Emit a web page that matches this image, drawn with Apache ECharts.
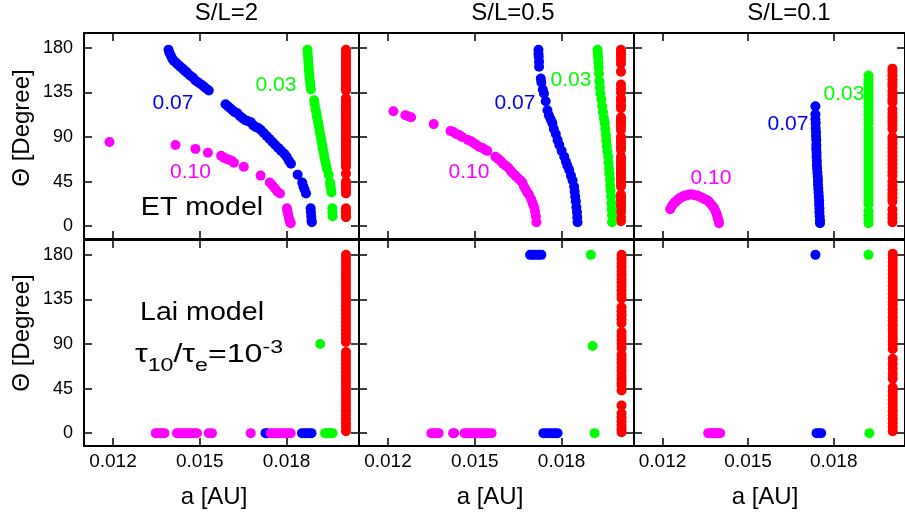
<!DOCTYPE html>
<html><head><meta charset="utf-8">
<script src="https://cdn.jsdelivr.net/npm/echarts@6/dist/echarts.min.js"></script>
<style>html,body{margin:0;padding:0;background:#fff}#c{width:905px;height:517px}</style>
</head><body><div id="c"></div>
<script>
// ---------- axes / labels ----------
const X_TICKS = [0.012, 0.015, 0.018];
const Y_TICKS = [0, 45, 90, 135, 180];
const COL_TITLES = ['S/L=2', 'S/L=0.5', 'S/L=0.1'];
const X_TITLE = 'a [AU]';
const Y_TITLE = '\u0398 [Degree]';

// ---------- ET model (top row) ----------
// S/L = 2
const ET2_RED_A = 0.02005;
const ET2_RED_THETA = [178,175,172,169,166,163,160,157,154,151,148,145,142,139,137,129,126,123,120,117,114,111,108,105,102,99,96,93,90,87,84,81,78,75,72,69,66,63,60,53,45,42,39,36,33,18,15,12,9];
const ET2_GREEN = [[0.01872,178],[0.01873,174],[0.01874,170],[0.01875,166],[0.01876,162],[0.01877,158],[0.01878,154],[0.01879,150],[0.01881,146],[0.01882,142],[0.01884,138],[0.01895,127],[0.01897,123],[0.01900,118],[0.01903,114],[0.01905,110],[0.01908,106],[0.01910,102],[0.01913,98],[0.01915,94],[0.01918,90],[0.01920,86],[0.01923,82],[0.01925,78],[0.01928,74],[0.01930,70],[0.01933,66],[0.01936,62],[0.01939,58],[0.01945,52],[0.01950,44],[0.01951,41],[0.01953,38],[0.01955,34],[0.01958,18],[0.01958,14],[0.01959,10]];
const ET2_BLUE = [[0.01392,178],[0.01395,175],[0.01400,172],[0.01405,169],[0.01410,167],[0.01418,165],[0.01425,163],[0.01433,161],[0.01441,159],[0.01448,157],[0.01456,155],[0.01466,152],[0.01476,150],[0.01485,147],[0.01495,145],[0.01505,143],[0.01514,141],[0.01522,139],[0.01531,137],
  [0.01589,123],[0.01597,121],[0.01605,119],[0.01613,117],[0.01621,115],[0.01630,114],[0.01639,111],[0.01648,109],[0.01657,107],[0.01666,106],[0.01676,105],[0.01684,102],[0.01693,100],[0.01702,99],[0.01711,97],[0.01721,94],[0.01731,91],[0.01741,88],[0.01751,85],[0.01761,82],[0.01771,79],[0.01781,76],[0.01792,73],[0.01800,70],[0.01808,66],[0.01815,63],[0.01838,52],[0.01854,44],[0.01858,40],[0.01862,37],[0.01867,33],[0.01883,18],[0.01884,14],[0.01885,10],[0.01886,6],[0.01887,4]];
const ET2_MAGENTA = [[0.01188,85],[0.01416,82],[0.01485,78],[0.01528,74],[0.01574,71],[0.01583,69],[0.01592,68],[0.01601,67],[0.01610,66],[0.01618,64],[0.01652,60],[0.01710,51],[0.01742,44],[0.01751,41],[0.01760,38],[0.01768,35],[0.01777,33],[0.01801,18],[0.01803,15],[0.01806,11],[0.01809,7],[0.01812,4],[0.01814,3]];
// S/L = 0.5
const ET05_RED_A = 0.02005;
const ET05_RED_THETA = [178,175,172,168,164,156,143,139,135,129,126,122,119,110,107,104,101,97,90,87,84,80,77,70,67,64,61,58,55,52,49,46,43,40,32,29,26,23,20,17,14,9,5];
const ET05_GREEN = [[0.01924,178],[0.01925,174],[0.01926,170],[0.01927,165],[0.01928,160],[0.01929,154],[0.01931,146],[0.01932,140],[0.01934,134],[0.01937,128],[0.01940,121],[0.01943,115],[0.01946,109],[0.01949,104],[0.01951,98],[0.01953,92],[0.01954,87],[0.01956,81],[0.01958,75],[0.01961,70],[0.01962,64],[0.01964,58],[0.01965,53],[0.01967,47],[0.01968,41],[0.01969,36],[0.01971,30],[0.01972,23],[0.01973,17],[0.01974,11],[0.01974,4]];
const ET05_BLUE = [[0.01720,178],[0.01720,174],[0.01721,171],[0.01722,166],[0.01722,161],[0.01728,149],[0.01730,145],[0.01735,138],[0.01739,134],[0.01745,126],[0.01751,117],[0.01756,112],[0.01762,108],[0.01768,104],[0.01773,98],[0.01780,93],[0.01786,87],[0.01792,82],[0.01800,76],[0.01809,70],[0.01815,65],[0.01820,61],[0.01826,57],[0.01832,51],[0.01838,46],[0.01843,40],[0.01845,35],[0.01847,30],[0.01849,25],[0.01851,19],[0.01853,14],[0.01854,9],[0.01855,4]];
const ET05_MAGENTA = [[0.01219,116],[0.01260,112],[0.01270,111],[0.01280,110],[0.01358,103],[0.01416,96],[0.01426,95],[0.01436,93],[0.01446,92],[0.01456,90],[0.01476,87],[0.01486,86],[0.01496,84],[0.01506,82],[0.01516,80],[0.01526,79],[0.01536,77],[0.01543,76],[0.01571,70],[0.01580,68],[0.01589,66],[0.01598,63],[0.01607,61],[0.01616,59],[0.01624,56],[0.01630,54],[0.01640,51],[0.01650,48],[0.01658,46],[0.01664,44],[0.01670,40],[0.01676,37],[0.01681,34],[0.01687,32],[0.01695,27],[0.01700,23],[0.01705,19],[0.01708,15],[0.01711,10],[0.01713,4]];
// S/L = 0.1
const ET01_RED_A = 0.02006;
const ET01_RED_THETA = [159,156,152,148,144,141,136,132,128,125,118,114,110,106,102,98,90,87,83,79,75,71,67,63,59,55,51,45,41,37,33,29,25,17,12,8,4];
const ET01_GREEN_A = 0.01922;
const ET01_GREEN_THETA = [152,148,144,140,136,132,128,124,120,116,112,108,104,98,94,90,86,82,78,74,70,66,62,58,54,50,46,42,38,34,30,26,22,15,11,7,3];
const ET01_BLUE = [[0.01736,121],[0.01736,113],[0.01736,108],[0.01737,104],[0.01737,99],[0.01738,95],[0.01738,91],[0.01739,87],[0.01739,82],[0.01739,78],[0.01740,74],[0.01740,70],[0.01741,66],[0.01741,62],[0.01742,58],[0.01743,54],[0.01744,50],[0.01745,46],[0.01745,42],[0.01746,38],[0.01747,34],[0.01748,30],[0.01749,26],[0.01749,22],[0.01750,18],[0.01750,14],[0.01751,10],[0.01752,6],[0.01752,3]];
const ET01_MAGENTA = [[0.01227,17],[0.01232,20],[0.01237,22],[0.01243,24],[0.01248,25],[0.01254,27],[0.01260,28],[0.01265,29],[0.01271,30],[0.01278,31],[0.01285,31],[0.01293,32],[0.01300,32],[0.01307,32],[0.01315,31],[0.01322,31],[0.01329,30],[0.01336,29],[0.01343,28],[0.01350,27],[0.01358,26],[0.01364,24],[0.01370,22],[0.01376,20],[0.01381,18],[0.01386,15],[0.01390,12],[0.01393,9],[0.01396,6],[0.01398,3]];

// ---------- Lai model (bottom row) ----------
const LAI2_RED_A = 0.02005;
const LAI2_RED_THETA = [180,176,172,168,164,160,156,152,148,144,140,136,132,128,124,120,116,112,108,104,100,96,92,82,78,74,70,66,62,58,54,50,46,42,38,34,30,26,22,18,14,10,6,2];
const LAI2_GREEN = [[0.01916,90],[0.01933,0],[0.01940,0],[0.01947,0],[0.01953,0],[0.01959,0]];
const LAI2_BLUE = [[0.01727,0],[0.01733,0],[0.01853,0],[0.01861,0],[0.01869,0],[0.01877,0],[0.01886,0]];
const LAI2_MAGENTA = [[0.01348,0],[0.01356,0],[0.01364,0],[0.01371,0],[0.01378,0],[0.01421,0],[0.01430,0],[0.01440,0],[0.01450,0],[0.01460,0],[0.01470,0],[0.01480,0],[0.01490,0],[0.01531,0],[0.01542,0],[0.01676,0],[0.01745,0],[0.01755,0],[0.01765,0],[0.01775,0],[0.01785,0],[0.01795,0],[0.01805,0],[0.01814,0]];
const LAI05_RED_A = 0.02007;
const LAI05_RED_THETA = [180,176,172,168,164,160,156,152,148,144,140,136,127,123,119,115,111,102,98,94,90,86,79,75,71,67,63,59,55,51,48,43,28,20,16,12,8,4,1];
const LAI05_GREEN = [[0.01901,180],[0.01907,88],[0.01914,0]];
const LAI05_BLUE = [[0.01691,180],[0.01700,180],[0.01710,180],[0.01720,180],[0.01730,180],[0.01737,0],[0.01747,0],[0.01757,0],[0.01767,0],[0.01777,0],[0.01786,0]];
const LAI05_MAGENTA = [[0.01350,0],[0.01358,0],[0.01366,0],[0.01375,0],[0.01425,0],[0.01429,0],[0.01465,0],[0.01475,0],[0.01485,0],[0.01495,0],[0.01505,0],[0.01515,0],[0.01525,0],[0.01535,0],[0.01545,0],[0.01558,0]];
const LAI01_RED_A = 0.02007;
const LAI01_RED_THETA = [181,177,173,169,165,161,157,153,149,145,141,137,133,129,125,121,117,113,109,105,101,97,93,89,85,75,70,65,60,55,46,42,38,34,30,26,22,18,14,10,6,2];
const LAI01_GREEN = [[0.01922,180],[0.01925,0]];
const LAI01_BLUE = [[0.01736,180],[0.01740,0],[0.01748,0],[0.01756,0]];
const LAI01_MAGENTA = [[0.01360,0],[0.01366,0],[0.01372,0],[0.01378,0],[0.01384,0],[0.01390,0],[0.01396,0],[0.01402,0]];

const col = (a, thetas) => thetas.map(t => [a, t]);

const PANELS = [
  {red: col(ET2_RED_A, ET2_RED_THETA), green: ET2_GREEN, blue: ET2_BLUE, magenta: ET2_MAGENTA},
  {red: col(ET05_RED_A, ET05_RED_THETA), green: ET05_GREEN, blue: ET05_BLUE, magenta: ET05_MAGENTA},
  {red: col(ET01_RED_A, ET01_RED_THETA), green: col(ET01_GREEN_A, ET01_GREEN_THETA), blue: ET01_BLUE, magenta: ET01_MAGENTA},
  {red: col(LAI2_RED_A, LAI2_RED_THETA), green: LAI2_GREEN, blue: LAI2_BLUE, magenta: LAI2_MAGENTA},
  {red: col(LAI05_RED_A, LAI05_RED_THETA), green: LAI05_GREEN, blue: LAI05_BLUE, magenta: LAI05_MAGENTA},
  {red: col(LAI01_RED_A, LAI01_RED_THETA), green: LAI01_GREEN, blue: LAI01_BLUE, magenta: LAI01_MAGENTA}
];

// ---------- layout / style ----------
const FONT = "'Liberation Sans', Arial, Helvetica, sans-serif";
const COLORS = {red: '#ff0000', green: '#00ff00', blue: '#0000ff', magenta: '#ff00ff'};
const X_MIN = 0.011, X_MAX = 0.0205, Y_MIN = -13, Y_MAX = 195;
const COL_LEFT = [84, 359, 634], ROW_TOP = [33, 240], GW = 275, GH = 206;

const grids = [], xAxes = [], yAxes = [], series = [];
const lineStyle = {color: '#000', width: 2};
const tickStyle = {color: '#000', width: 1.5};
PANELS.forEach((p, g) => {
  const r = Math.floor(g / 3), c = g % 3;
  grids.push({left: COL_LEFT[c], top: ROW_TOP[r], width: GW, height: GH, containLabel: false});
  ['bottom', 'top'].forEach((pos, k) => {
    xAxes.push({type: 'value', gridIndex: g, position: pos, min: X_MIN, max: X_MAX,
      axisLine: {show: true, onZero: false, lineStyle},
      axisTick: {show: true, inside: true, length: 8, customValues: X_TICKS, lineStyle: tickStyle},
      axisLabel: {show: k === 0 && r === 1, customValues: X_TICKS, formatter: v => v.toFixed(3),
        fontSize: 19, fontFamily: FONT, color: '#000', margin: 6},
      splitLine: {show: false}});
  });
  ['left', 'right'].forEach((pos, k) => {
    yAxes.push({type: 'value', gridIndex: g, position: pos, min: Y_MIN, max: Y_MAX,
      axisLine: {show: true, onZero: false, lineStyle},
      axisTick: {show: true, inside: true, length: 8, customValues: Y_TICKS, lineStyle: tickStyle},
      axisLabel: {show: k === 0 && c === 0, customValues: Y_TICKS,
        fontSize: 18, fontFamily: FONT, color: '#000', margin: 11},
      splitLine: {show: false}});
  });
  ['red', 'green', 'blue', 'magenta'].forEach(k => {
    series.push({type: 'scatter', xAxisIndex: 2 * g, yAxisIndex: 2 * g, data: p[k],
      symbol: 'circle', symbolSize: 10, itemStyle: {color: COLORS[k], opacity: 1},
      emphasis: {disabled: true}, silent: true, z: 2});
  });
});

// ---------- text annotations ----------
const txt = (text, x, y, size, color, extra) => Object.assign({type: 'text', x, y, z: 100,
  style: {text, fill: color || '#000', font: size + 'px ' + FONT, align: 'center', verticalAlign: 'middle'}}, extra || {});
const graphic = [];
const TITLE_X = [226.5, 513, 789];
COL_TITLES.forEach((t, i) => graphic.push(txt(t, TITLE_X[i], 13.5, 24)));
[214, 490, 765].forEach(x => graphic.push(txt(X_TITLE, x, 497, 24)));
[128, 333].forEach(y => graphic.push(txt(Y_TITLE, 22, y, 24, '#000', {rotation: Math.PI / 2})));
const ANNOT = [
  ['0.07', 173, 103.5, 'blue'], ['0.03', 276, 85, 'green'], ['0.10', 190.5, 172, 'magenta'],
  ['0.07', 515, 103.5, 'blue'], ['0.03', 571, 80, 'green'], ['0.10', 469, 172, 'magenta'],
  ['0.07', 788, 124, 'blue'], ['0.03', 844, 94, 'green'], ['0.10', 711, 178, 'magenta']
];
ANNOT.forEach(a => graphic.push(txt(a[0], a[1], a[2], 21, COLORS[a[3]])));
graphic.push(txt('ET model', 202, 208, 26, '#000', {scaleX: 1.1}));
graphic.push(txt('Lai model', 202, 313, 26, '#000', {scaleX: 1.1}));
// tau_10 / tau_e = 10^-3 built from pieces, stretched to the reference width
const mctx = document.createElement('canvas').getContext('2d');
const measure = (t, s) => { mctx.font = s + 'px ' + FONT; return mctx.measureText(t).width; };
const PIECES = [['\u03c4', 25, 0], ['10', 18, 8], ['/\u03c4', 25, 0], ['e', 18, 8], ['=10', 25, 0], ['-3', 18, -10]];
let px = 0; const baseY = 364; const kids = [];
PIECES.forEach(([t, s, dy]) => {
  kids.push({type: 'text', x: px, y: baseY + dy - 0.35 * s,
    style: {text: t, fill: '#000', font: s + 'px ' + FONT, align: 'left', verticalAlign: 'middle'}});
  px += measure(t, s);
});
graphic.push({type: 'group', x: 135, y: 0, scaleX: 148 / px, z: 100, children: kids});

const chart = echarts.init(document.getElementById('c'), null, {renderer: 'canvas'});
chart.setOption({animation: false, backgroundColor: '#fff', grid: grids, xAxis: xAxes, yAxis: yAxes, series, graphic});
</script></body></html>
